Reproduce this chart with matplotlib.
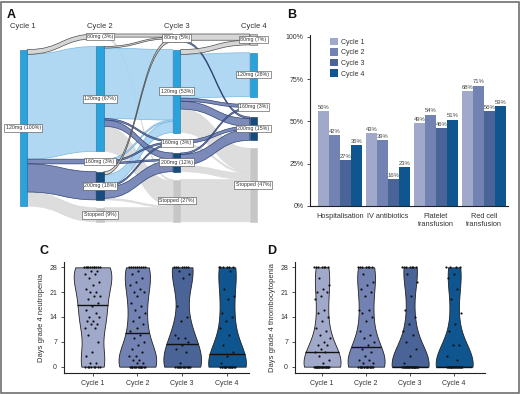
import numpy as np
import matplotlib
matplotlib.use("Agg")
import matplotlib.pyplot as plt
from matplotlib.path import Path
from matplotlib.patches import PathPatch, Rectangle

plt.rcParams["font.family"] = ["Liberation Sans", "DejaVu Sans"]

W, H = 520, 394

# ---- panel A: dose received per cycle (% of patients) ----
cycles = ["Cycle 1", "Cycle 2", "Cycle 3", "Cycle 4"]
doses = ["80mg", "120mg", "160mg", "200mg", "Stopped"]
cycle1_pct = [0, 100, 0, 0, 0]
cycle2_pct = [3, 67, 3, 18, 9]
cycle3_pct = [5, 53, 3, 12, 27]
cycle4_pct = [7, 28, 3, 15, 47]

# transitions, rows = dose in earlier cycle, cols = dose in next cycle
flows_1_2 = [
    [0, 0, 0, 0, 0],
    [3, 67, 3, 18, 9],
    [0, 0, 0, 0, 0],
    [0, 0, 0, 0, 0],
    [0, 0, 0, 0, 0],
]
flows_2_3 = [
    [2, 0, 0, 0, 1],
    [1, 45, 1, 4, 16],
    [0, 1, 1, 1, 0],
    [2, 7, 1, 7, 1],
    [0, 0, 0, 0, 9],
]
flows_3_4 = [
    [4, 0, 0, 1, 0],
    [3, 28, 2, 5, 15],
    [0, 0, 0, 2, 1],
    [0, 0, 1, 7, 4],
    [0, 0, 0, 0, 27],
]

# ---- panel B: complications per cycle (%) ----
outcomes = ["Hospitalisation", "IV antibiotics", "Platelet\ntransfusion", "Red cell\ntransfusion"]
cycle1_rates = [56, 43, 49, 68]
cycle2_rates = [42, 39, 54, 71]
cycle3_rates = [27, 16, 46, 56]
cycle4_rates = [36, 23, 51, 59]

# ---- panels C/D: days of grade 4 cytopenia per patient ----
neut_c1 = [28, 28, 28, 28, 28, 28, 28, 28, 28, 28, 28, 27, 27, 26, 26, 25, 24, 23, 22, 21,
           21, 20, 20, 19, 18, 17, 16, 15, 14, 14, 13, 13, 12, 12, 11, 11, 9, 7, 4, 3,
           1, 1, 0, 0, 0, 0, 0, 0, 0, 0]
neut_c2 = [28, 28, 28, 28, 28, 28, 28, 28, 28, 27, 26, 25, 24, 23, 22, 21, 21, 20, 18, 17,
           16, 15, 14, 13, 12, 11, 10, 9, 8, 7, 6, 5, 4, 3, 3, 2, 2, 1, 1, 0,
           0, 0, 0, 0, 0, 0, 0, 0, 0, 0, 0, 0, 0, 0]
neut_c3 = [28, 28, 28, 28, 28, 28, 28, 27, 26, 25, 17, 14, 13, 9, 8, 8, 7, 6, 5, 4,
           1, 0, 0, 0, 0, 0, 0, 0, 0, 0, 0, 0, 0, 0]
neut_c4 = [28, 28, 28, 28, 28, 28, 27, 22, 20, 19, 15, 14, 13, 11, 9, 6, 4, 3, 1, 0,
           0, 0, 0, 0, 0, 0, 0, 0, 0, 0, 0, 0, 0, 0]

thromb_c1 = [28, 28, 28, 28, 28, 28, 28, 25, 23, 22, 21, 21, 20, 19, 16, 15, 14, 13, 11, 10,
             9, 8, 7, 6, 6, 5, 4, 4, 3, 2, 1, 0, 0, 0, 0, 0, 0, 0, 0, 0,
             0, 0, 0, 0, 0, 0, 0, 0, 0, 0, 0, 0, 0]
thromb_c2 = [28, 28, 28, 28, 28, 28, 28, 26, 24, 23, 22, 21, 20, 16, 16, 15, 14, 13, 10, 9,
             8, 7, 6, 5, 4, 3, 2, 2, 1, 1, 0, 0, 0, 0, 0, 0, 0, 0, 0, 0,
             0, 0, 0, 0, 0, 0]
thromb_c3 = [28, 28, 28, 28, 28, 28, 28, 26, 24, 20, 16, 14, 12, 10, 9, 7, 5, 3, 1, 0,
             0, 0, 0, 0, 0, 0, 0, 0, 0, 0, 0, 0, 0, 0, 0, 0, 0, 0, 0, 0, 0]
thromb_c4 = [28, 28, 28, 28, 26, 25, 22, 19, 15, 12, 10, 6, 6, 3, 2, 0, 0, 0, 0, 0,
             0, 0, 0, 0, 0, 0, 0, 0, 0, 0, 0, 0]

cycle_colors = ["#a1a9cb", "#7282b2", "#4a6497", "#0f5690"]
text_col = "#333333"


def px_axes(fig, left, top, right, bottom):
    return fig.add_axes([left / W, 1 - bottom / H, (right - left) / W, (bottom - top) / H])


def band(ax, x0, x1, ya, yb, va, vb, fc, ec, z):
    xm = (x0 + x1) / 2
    verts = [(x0, ya), (xm, ya), (xm, va), (x1, va), (x1, vb), (xm, vb), (xm, yb), (x0, yb), (x0, ya)]
    codes = [Path.MOVETO, Path.CURVE4, Path.CURVE4, Path.CURVE4, Path.LINETO,
             Path.CURVE4, Path.CURVE4, Path.CURVE4, Path.CLOSEPOLY]
    ax.add_patch(PathPatch(Path(verts, codes), fc=fc, ec=ec, lw=0.5, alpha=0.9, zorder=z))


def draw_sankey(ax):
    col_pct = [cycle1_pct, cycle2_pct, cycle3_pct, cycle4_pct]
    transitions = [flows_1_2, flows_2_3, flows_3_4]
    gap, span, node_w = 5, 120, 0.098

    flow_fc = {"80mg": "#d2d2d2", "120mg": "#a8d4f1", "160mg": "#6e7fb2", "200mg": "#6e7fb2", "Stopped": "#dadada"}
    flow_ec = {"80mg": "#3c3c3c", "120mg": "#74b2dc", "160mg": "#243a6a", "200mg": "#243a6a", "Stopped": "#dadada"}
    flow_z = {"80mg": 4, "120mg": 2, "160mg": 3, "200mg": 3, "Stopped": 1}
    node_fc = {"80mg": "#c9c9c9", "120mg": "#2aa3dd", "160mg": "#164b7e", "200mg": "#164b7e", "Stopped": "#c6c6c6"}
    node_ec = {"80mg": "#666666", "120mg": "#1b6fa3", "160mg": "#0e3358", "200mg": "#0e3358", "Stopped": "#c6c6c6"}

    # stack nodes in each column, centred in a fixed span
    node_pos = []
    for pct in col_pct:
        idx = [j for j, p in enumerate(pct) if p > 0]
        total = sum(pct) + gap * (len(idx) - 1)
        y = (span - total) / 2
        pos = {}
        for j in idx:
            pos[j] = (y, y + pct[j])
            y += pct[j] + gap
        node_pos.append(pos)

    for c, mat in enumerate(transitions):
        src_cur = {j: node_pos[c][j][0] for j in node_pos[c]}
        tgt_cur = {k: node_pos[c + 1][k][0] for k in node_pos[c + 1]}
        src_off, tgt_off = {}, {}
        for j in range(len(doses)):
            for k in range(len(doses)):
                if mat[j][k] > 0:
                    src_off[(j, k)] = src_cur[j]
                    src_cur[j] += mat[j][k]
        for k in range(len(doses)):
            for j in range(len(doses)):
                if mat[j][k] > 0:
                    tgt_off[(j, k)] = tgt_cur[k]
                    tgt_cur[k] += mat[j][k]
        for (j, k), ya in src_off.items():
            v = mat[j][k]
            va = tgt_off[(j, k)]
            d = doses[k]
            band(ax, c + node_w, c + 1, ya, ya + v, va, va + v, flow_fc[d], flow_ec[d], flow_z[d])

    for c, pos in enumerate(node_pos):
        for j, (y0, y1) in pos.items():
            d = doses[j]
            ax.add_patch(Rectangle((c, y0), node_w, y1 - y0, fc=node_fc[d], ec=node_ec[d], lw=0.4, zorder=5))
            ax.text(c + node_w / 2, (y0 + y1) / 2, f"{d} ({col_pct[c][j]}%)", ha="center", va="center",
                    fontsize=3.8, color=text_col, zorder=6,
                    bbox=dict(boxstyle="square,pad=0.25", fc="white", ec="#444444", lw=0.4))
        ax.text(c + node_w / 2, -4.8, cycles[c], ha="center", va="center", fontsize=5.5, color=text_col)

    ax.set_xlim(-0.24, 3.2)
    ax.set_ylim(125, -12)
    ax.axis("off")


def violin_panel(ax, groups, positions, ylabel):
    parts = ax.violinplot(groups, positions=positions, widths=0.84, showextrema=False, points=200)
    for body, col in zip(parts["bodies"], cycle_colors):
        body.set_facecolor(col)
        body.set_edgecolor("#222222")
        body.set_linewidth(0.6)
        body.set_alpha(1)
    for i, (vals, pos) in enumerate(zip(groups, positions)):
        vals = np.asarray(vals, dtype=float)
        jit = ((np.arange(len(vals)) * 0.618034) % 1 - 0.5) * 0.36
        ax.scatter(pos + jit, vals, s=2.5, color="#111111", lw=0, zorder=3)
        med = np.median(vals)
        v = parts["bodies"][i].get_paths()[0].vertices
        right = v[v[:, 0] > pos]
        order = np.argsort(right[:, 1])
        half = np.interp(med, right[order, 1], right[order, 0]) - pos
        ax.hlines(med, pos - half, pos + half, color="#111111", lw=1.0, zorder=4)

    ax.set_ylim(-1.7, 29.5)
    ax.set_yticks([0, 7, 14, 21, 28])
    ax.set_xticks(positions)
    ax.set_xticklabels(cycles)
    ax.set_ylabel(ylabel, fontsize=5.5, color=text_col, labelpad=3)
    for s in ["top", "right"]:
        ax.spines[s].set_visible(False)
    for s in ["left", "bottom"]:
        ax.spines[s].set_linewidth(0.8)
        ax.spines[s].set_color("#222222")
    ax.tick_params(labelsize=5, colors=text_col, length=2, width=0.6, pad=3)


def main():
    fig = plt.figure(figsize=(W / 100, H / 100), dpi=100)

    # A: sankey of dose changes
    ax_a = px_axes(fig, 1.1, 15.2, 265, 229.6)
    draw_sankey(ax_a)

    # B: grouped bars
    ax_b = px_axes(fig, 310, 35, 508, 206)
    x = np.arange(len(outcomes))
    bw = 0.229
    for k, rates in enumerate([cycle1_rates, cycle2_rates, cycle3_rates, cycle4_rates]):
        vals = np.array(rates) / 100
        xs = x + (k - 1.5) * bw
        ax_b.bar(xs, vals, width=bw, color=cycle_colors[k], label=cycles[k])
        for xi, v in zip(xs, rates):
            ax_b.text(xi, v / 100 + 0.008, f"{v}%", ha="center", va="bottom", fontsize=4.2, color="#444444")
    ax_b.set_xlim(-0.625, 3.5)
    ax_b.set_ylim(0, 1.01)
    ax_b.set_yticks([0, 0.25, 0.5, 0.75, 1.0])
    ax_b.set_yticklabels(["0%", "25%", "50%", "75%", "100%"])
    ax_b.set_xticks(x)
    ax_b.set_xticklabels(outcomes)
    ax_b.tick_params(axis="y", labelsize=5, colors=text_col, length=2.5, width=0.6, pad=2)
    ax_b.tick_params(axis="x", labelsize=5.3, colors=text_col, length=0, pad=5)
    for s in ["top", "right"]:
        ax_b.spines[s].set_visible(False)
    for s in ["left", "bottom"]:
        ax_b.spines[s].set_linewidth(0.8)
        ax_b.spines[s].set_color("#222222")
    ax_b.legend(loc="upper left", bbox_to_anchor=(0.07, 1.02), frameon=False, fontsize=5,
                handlelength=1.1, handleheight=1.3, handletextpad=0.5, labelspacing=0.35,
                labelcolor=text_col)

    # C / D: violins
    ax_c = px_axes(fig, 64, 262, 249, 372.7)
    violin_panel(ax_c, [neut_c1, neut_c2, neut_c3, neut_c4], [1, 2, 3, 4], "Days grade 4 neutropenia")
    ax_c.set_xlim(0.364, 4.49)

    ax_d = px_axes(fig, 295, 262, 485, 372.7)
    violin_panel(ax_d, [thromb_c1, thromb_c2, thromb_c3, thromb_c4], [1, 2, 3, 4],
                 "Days grade 4 thrombocytopenia")
    ax_d.set_xlim(0.386, 4.70)

    for letter, (lx, ly) in zip("ABCD", [(7, 9), (287, 9), (39, 245), (267, 245)]):
        fig.text(lx / W, 1 - ly / H, letter, fontsize=9, fontweight="bold", ha="left", va="top", color="#111111")

    fig.patches.append(Rectangle((1 / W, 1 / H), 518 / W, 391 / H, transform=fig.transFigure,
                                 fill=False, ec="#707070", lw=1.2))

    fig.savefig("out.png", dpi=100)
    plt.close(fig)


if __name__ == "__main__":
    main()
